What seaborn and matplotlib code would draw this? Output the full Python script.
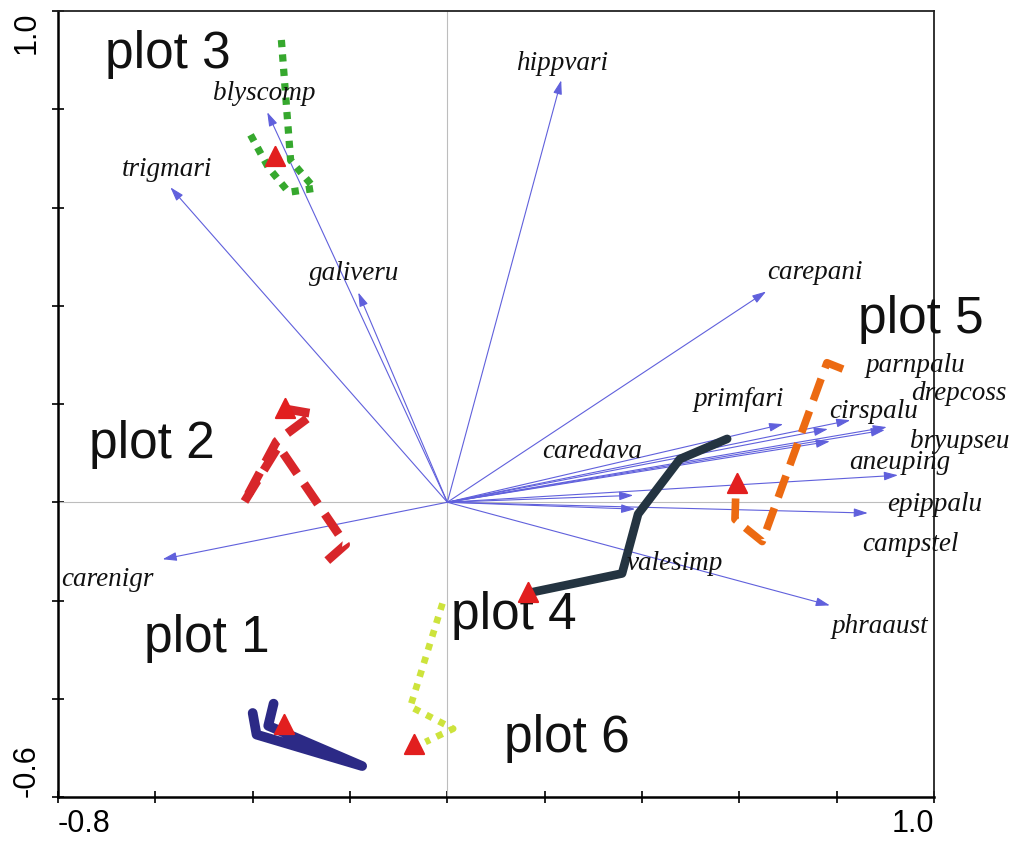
import numpy as np
import pandas as pd
import matplotlib
matplotlib.use("Agg")
import matplotlib.pyplot as plt
import seaborn as sns

# Species scores (arrow tips) and label anchors
species = ["hippvari", "blyscomp", "trigmari", "galiveru", "carepani", "carenigr",
           "phraaust", "primfari", "bryupseu", "cirspalu", "parnpalu", "drepcoss",
           "caredava", "aneuping", "epippalu", "valesimp", "campstel"]
sp_x = [0.234, -0.370, -0.569, -0.183, 0.655, -0.585, 0.786, 0.690, 0.782, 0.828,
        0.903, 0.899, 0.786, 0.926, 0.864, 0.382, 0.386]
sp_y = [0.859, 0.794, 0.641, 0.427, 0.429, -0.116, -0.210, 0.159, 0.149, 0.167,
        0.153, 0.147, 0.124, 0.055, -0.022, 0.014, -0.014]
lab_x = [0.236, -0.376, -0.577, -0.192, 0.756, -0.698, 0.889, 0.598, 1.053, 0.875,
         0.961, 1.052, 0.298, 0.930, 1.002, 0.468, 0.951]
lab_y = [0.894, 0.833, 0.678, 0.465, 0.467, -0.157, -0.253, 0.210, 0.124, 0.184,
         0.278, 0.222, 0.104, 0.080, -0.004, -0.124, -0.086]

# Plot trajectories through time
plot1_x = [-0.357, -0.368, -0.175, -0.392, -0.400]
plot1_y = [-0.410, -0.455, -0.537, -0.473, -0.429]
plot2_x = [-0.333, -0.275, -0.351, -0.419, -0.347, -0.209, -0.248]
plot2_y = [0.190, 0.180, 0.124, -0.002, 0.114, -0.086, -0.120]
plot3_x = [-0.341, -0.322, -0.273, -0.326, -0.368, -0.405]
plot3_y = [0.941, 0.696, 0.639, 0.631, 0.682, 0.749]
plot4_x = [0.170, 0.359, 0.392, 0.478, 0.575]
plot4_y = [-0.184, -0.145, -0.024, 0.088, 0.129]
plot5_x = [0.813, 0.780, 0.647, 0.591, 0.593]
plot5_y = [0.271, 0.284, -0.080, -0.035, 0.027]
plot6_x = [-0.010, -0.076, 0.012, -0.045]
plot6_y = [-0.206, -0.416, -0.461, -0.488]

# First-year positions of each plot
start_x = [-0.335, -0.333, -0.355, 0.166, 0.595, -0.068]
start_y = [-0.451, 0.192, 0.704, -0.182, 0.039, -0.492]

plot_names = ["plot 1", "plot 2", "plot 3", "plot 4", "plot 5", "plot 6"]
name_x = [-0.624, -0.737, -0.704, 0.008, 0.844, 0.117]
name_y = [-0.304, 0.090, 0.884, -0.257, 0.345, -0.508]

sns.set_theme(style="white")
plt.rcParams["font.family"] = ["Liberation Sans", "DejaVu Sans"]

fig = plt.figure(figsize=(10.21, 8.41), dpi=100)
ax = fig.add_axes([58 / 1021, 44 / 841, 876 / 1021, 786 / 841])
ax.set_xlim(-0.8, 1.0)
ax.set_ylim(-0.6, 1.0)

ax.axhline(0, color="#bdbdbd", lw=0.8, zorder=1)
ax.axvline(0, color="#bdbdbd", lw=0.8, zorder=1)

arrow_color = "#6060dc"
for x, y in zip(sp_x, sp_y):
    ax.annotate("", xy=(x, y), xytext=(0, 0),
                arrowprops=dict(arrowstyle="-|>,head_length=0.7,head_width=0.22",
                                color=arrow_color, lw=0.8, shrinkA=0, shrinkB=0),
                zorder=2)

styles = [
    (plot1_x, plot1_y, "#2c2a86", 7.0, "-"),
    (plot2_x, plot2_y, "#d8262a", 6.3, (0, (2.8, 1.4))),
    (plot3_x, plot3_y, "#36a82e", 5.2, (0, (1.0, 1.0))),
    (plot4_x, plot4_y, "#243441", 6.2, "-"),
    (plot5_x, plot5_y, "#ec6a12", 5.5, (0, (3.0, 1.5))),
    (plot6_x, plot6_y, "#cde33c", 4.8, (0, (1.0, 1.1))),
]
for xs, ys, col, lw, ls in styles:
    df = pd.DataFrame({"x": xs, "y": ys})
    sns.lineplot(data=df, x="x", y="y", sort=False, estimator=None, ax=ax,
                 color=col, lw=lw, linestyle=ls, solid_capstyle="round",
                 solid_joinstyle="round", dash_capstyle="butt", legend=False,
                 zorder=3)

sns.scatterplot(x=start_x, y=start_y, marker="^", s=190, color="#e21f1f",
                edgecolor="#e21f1f", linewidth=1.5, ax=ax, legend=False, zorder=6)

for name, x, y in zip(species, lab_x, lab_y):
    ax.text(x, y, name, family="Liberation Serif", style="italic", size=19.5,
            ha="center", va="center", color="#111111", clip_on=False, zorder=5)

for name, x, y in zip(plot_names, name_x, name_y):
    ax.text(x, y, name, size=37, ha="left", va="baseline", color="#111111", zorder=4)

ax.set_xlabel("")
ax.set_ylabel("")
xt = np.round(np.arange(-0.8, 1.01, 0.2), 1)
yt = np.round(np.arange(-0.6, 1.01, 0.2), 1)
ax.set_xticks(xt)
ax.set_xticklabels(["-0.8"] + [""] * (len(xt) - 2) + ["1.0"])
ax.set_yticks(yt)
ax.set_yticklabels(["-0.6"] + [""] * (len(yt) - 2) + ["1.0"], rotation=90)
ax.tick_params(bottom=True, left=True, direction="inout", length=8, width=1.2,
               colors="black", labelsize=22)
ax.tick_params(axis="x", pad=5)
ax.tick_params(axis="y", pad=8)
xl = ax.get_xticklabels()
xl[0].set_ha("left")
xl[-1].set_ha("right")
yl = ax.get_yticklabels()
yl[0].set_va("bottom")
yl[-1].set_va("top")

for s in ["left", "bottom"]:
    ax.spines[s].set_linewidth(1.8)
    ax.spines[s].set_color("black")
for s in ["top", "right"]:
    ax.spines[s].set_linewidth(1.3)
    ax.spines[s].set_color("#222222")

fig.savefig("out.png", dpi=100, facecolor="white")
